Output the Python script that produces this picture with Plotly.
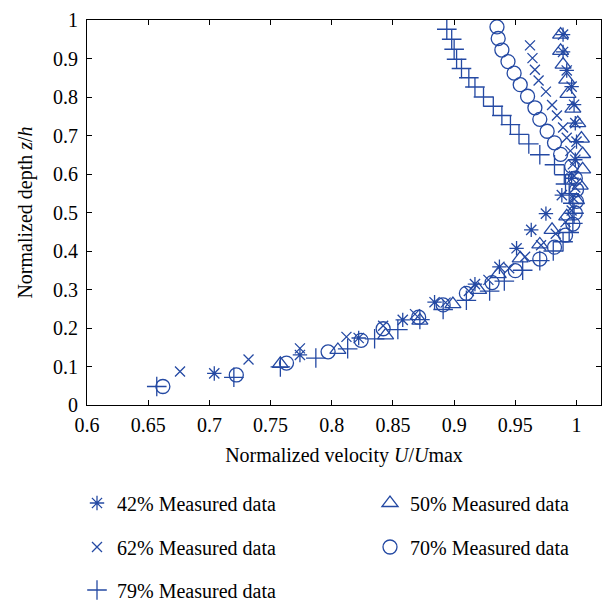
import plotly.graph_objects as go

# ---- data ----
x42 = [0.704, 0.774, 0.822, 0.858, 0.884, 0.917, 0.937, 0.951, 0.963, 0.975,
       0.988, 0.996, 0.999, 1.000, 0.999, 0.998, 0.996, 0.992, 0.989, 0.989]
y42 = [0.082, 0.130, 0.174, 0.221, 0.267, 0.314, 0.359, 0.407, 0.455, 0.497,
       0.545, 0.589, 0.637, 0.684, 0.732, 0.780, 0.827, 0.869, 0.917, 0.962]

x50 = [0.758, 0.805, 0.844, 0.872, 0.899, 0.920, 0.936, 0.954, 0.970, 0.980,
       0.992, 1.000, 1.003, 1.005, 1.005, 1.004, 1.001, 0.997, 0.993, 0.992,
       0.989, 0.987, 0.987]
y50 = [0.107, 0.143, 0.181, 0.219, 0.262, 0.299, 0.340, 0.381, 0.417, 0.455,
       0.490, 0.532, 0.570, 0.612, 0.652, 0.692, 0.732, 0.770, 0.808, 0.845,
       0.884, 0.920, 0.962]

x62 = [0.676, 0.732, 0.774, 0.812, 0.842, 0.868, 0.893, 0.912, 0.928, 0.945,
       0.958, 0.971, 0.983, 0.991, 0.996, 0.998, 0.999, 0.998, 0.997, 0.995,
       0.992, 0.989, 0.984, 0.980, 0.975, 0.969, 0.966, 0.964, 0.962]
y62 = [0.087, 0.118, 0.147, 0.177, 0.206, 0.236, 0.266, 0.296, 0.325, 0.355,
       0.385, 0.415, 0.445, 0.475, 0.505, 0.535, 0.565, 0.595, 0.625, 0.660,
       0.694, 0.721, 0.752, 0.779, 0.814, 0.843, 0.871, 0.901, 0.934]

x70 = [0.662, 0.722, 0.763, 0.797, 0.824, 0.842, 0.871, 0.891, 0.910, 0.931,
       0.950, 0.970, 0.982, 0.991, 0.997, 0.999, 1.000, 1.000, 0.999, 0.996,
       0.987, 0.982, 0.976, 0.970, 0.966, 0.960, 0.954, 0.949, 0.944, 0.939,
       0.936, 0.935]
y70 = [0.048, 0.078, 0.109, 0.138, 0.168, 0.198, 0.228, 0.260, 0.290, 0.318,
       0.349, 0.379, 0.410, 0.441, 0.470, 0.499, 0.529, 0.559, 0.589, 0.620,
       0.651, 0.681, 0.711, 0.742, 0.772, 0.802, 0.832, 0.862, 0.892, 0.922,
       0.952, 0.982]

x79 = [0.657, 0.720, 0.758, 0.787, 0.813, 0.835, 0.854, 0.872, 0.891, 0.910,
       0.929, 0.941, 0.956, 0.970, 0.981, 0.989, 0.994, 0.997, 0.998, 0.997,
       0.994, 0.991, 0.990, 0.982, 0.970, 0.961, 0.953, 0.946, 0.939, 0.932,
       0.924, 0.917, 0.912, 0.906, 0.902, 0.900, 0.898, 0.894]
y79 = [0.048, 0.072, 0.099, 0.122, 0.146, 0.172, 0.196, 0.222, 0.248, 0.272,
       0.296, 0.322, 0.350, 0.375, 0.400, 0.424, 0.448, 0.472, 0.498, 0.524,
       0.549, 0.574, 0.598, 0.624, 0.650, 0.678, 0.703, 0.728, 0.752, 0.776,
       0.800, 0.826, 0.850, 0.874, 0.898, 0.924, 0.950, 0.976]

x_ticks = [0.6, 0.65, 0.7, 0.75, 0.8, 0.85, 0.9, 0.95, 1.0]
x_tick_labels = ["0.6", "0.65", "0.7", "0.75", "0.8", "0.85", "0.9", "0.95", "1"]
y_ticks = [0, 0.1, 0.2, 0.3, 0.4, 0.5, 0.6, 0.7, 0.8, 0.9, 1.0]
y_tick_labels = ["0", "0.1", "0.2", "0.3", "0.4", "0.5", "0.6", "0.7", "0.8", "0.9", "1"]

COLOR = "#2449a3"
FONT = "Liberation Serif"
FS = 20

series = [
    ("42% Measured data", x42, y42, "asterisk-open", 12, "legend"),
    ("50% Measured data", x50, y50, "triangle-up-open", 14, "legend2"),
    ("62% Measured data", x62, y62, "x-thin-open", 10, "legend3"),
    ("70% Measured data", x70, y70, "circle-open", 14, "legend4"),
    ("79% Measured data", x79, y79, "cross-thin-open", 14, "legend5"),
]

fig = go.Figure()
for name, xs, ys, sym, size, leg in series:
    fig.add_trace(go.Scatter(
        x=xs, y=ys, mode="markers", name=name, legend=leg, showlegend=True,
        marker=dict(symbol=sym, size=size, color=COLOR,
                    line=dict(width=1.3, color=COLOR)),
    ))

axis_common = dict(
    showgrid=False, zeroline=False, showline=True, linecolor="black",
    linewidth=1.2, mirror="ticks", ticks="inside", ticklen=5,
    tickcolor="black", ticklabeloverflow="allow",
    tickfont=dict(family=FONT, size=FS, color="black"),
)

fig.update_layout(
    width=611, height=605, showlegend=True,
    margin=dict(l=87, r=10, t=9, b=200),
    paper_bgcolor="white", plot_bgcolor="white",
    font=dict(family=FONT, size=FS, color="black"),
    xaxis=dict(range=[0.6, 1.02], tickvals=x_ticks, ticktext=x_tick_labels,
               ticklabelstandoff=2,
               title=dict(text="Normalized velocity <i>U</i>/<i>U</i>max",
                          font=dict(family=FONT, size=FS), standoff=12),
               **axis_common),
    yaxis=dict(range=[0, 1], tickvals=y_ticks, ticktext=y_tick_labels,
               ticklabelstandoff=4,
               title=dict(text="Normalized depth <i>z</i>/<i>h</i>",
                          font=dict(family=FONT, size=FS), standoff=14),
               **axis_common),
)

leg_common = dict(orientation="h", xanchor="left", yanchor="middle",
                  xref="container", yref="container", visible=True,
                  font=dict(family=FONT, size=FS, color="black"),
                  bgcolor="rgba(0,0,0,0)")
col_x = [77 / 611, 370 / 611]
row_y = [1 - 503 / 605, 1 - 547 / 605, 1 - 590 / 605]
fig.update_layout(
    legend=dict(x=col_x[0], y=row_y[0], **leg_common),
    legend2=dict(x=col_x[1], y=row_y[0], **leg_common),
    legend3=dict(x=col_x[0], y=row_y[1], **leg_common),
    legend4=dict(x=col_x[1], y=row_y[1], **leg_common),
    legend5=dict(x=col_x[0], y=row_y[2], **leg_common),
)

fig.write_html("out.html")
